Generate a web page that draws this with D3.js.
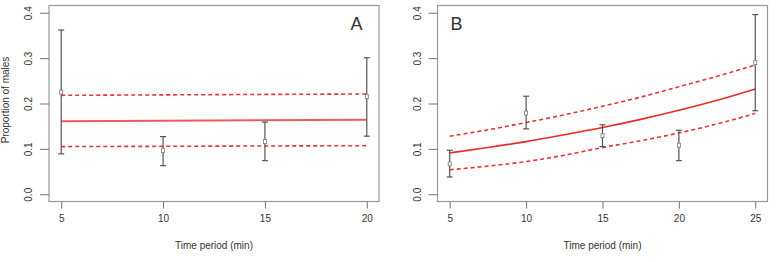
<!DOCTYPE html>
<html>
<head>
<meta charset="utf-8">
<script src="https://cdn.jsdelivr.net/npm/d3@7"></script>
<style>
  body { margin: 0; background: #fff; }
  svg text { font-family: "Liberation Sans", Arial, sans-serif; fill: #333; }
</style>
</head>
<body>
<svg id="chart" width="778" height="262"></svg>
<script>
// Panel A: observed proportions with error bars
const timesA = [5, 10, 15, 20];
const propA = [0.225, 0.096, 0.116, 0.215];
const lowA = [0.089, 0.063, 0.074, 0.128];
const highA = [0.362, 0.127, 0.159, 0.301];
// Panel A fitted line and bounds
const fitTimesA = [5, 20];
const fitA = [0.161, 0.164];
const fitLowA = [0.105, 0.107];
const fitHighA = [0.218, 0.221];

// Panel B: observed proportions with error bars
const timesB = [5, 10, 15, 20, 25];
const propB = [0.067, 0.179, 0.129, 0.108, 0.290];
const lowB = [0.038, 0.144, 0.105, 0.074, 0.184];
const highB = [0.097, 0.216, 0.153, 0.141, 0.396];
// Panel B fitted curve and bounds
const fitTimesB = [5, 7.5, 10, 12.5, 15, 17.5, 20, 22.5, 25];
const fitB = [0.091, 0.103, 0.116, 0.131, 0.147, 0.165, 0.185, 0.207, 0.232];
const fitLowB = [0.054, 0.062, 0.072, 0.086, 0.103, 0.118, 0.135, 0.155, 0.178];
const fitHighB = [0.128, 0.142, 0.158, 0.175, 0.194, 0.214, 0.237, 0.260, 0.285];

const yTicks = [0, 0.1, 0.2, 0.3, 0.4];

const svg = d3.select("#chart");

// Function to draw one panel
function drawPanel(opts) {
    const g = svg.append("g");

    const x = d3.scaleLinear().domain(opts.xDomain).range([opts.left, opts.right]);
    const y = d3.scaleLinear().domain([-0.016, 0.416]).range([201.5, 5.5]);

    // Box
    g.append("rect")
        .attr("x", opts.left)
        .attr("y", 5.5)
        .attr("width", opts.right - opts.left)
        .attr("height", 196)
        .attr("fill", "none")
        .attr("stroke", "#999")
        .attr("stroke-width", 1.2);

    // Y axis
    const yAxis = g.append("g")
        .attr("transform", `translate(${opts.left},0)`)
        .call(d3.axisLeft(y).tickValues(yTicks).tickSize(9).tickPadding(4).tickFormat(d3.format(".1f")));
    yAxis.select(".domain").remove();
    yAxis.selectAll(".tick line").attr("stroke", "#777");
    yAxis.selectAll(".tick text")
        .attr("font-size", "10px")
        .attr("fill", "#333")
        .attr("transform", "rotate(-90)")
        .attr("x", 0)
        .attr("y", -17)
        .attr("dy", "0")
        .attr("text-anchor", "middle");

    // X axis
    const xAxis = g.append("g")
        .attr("transform", `translate(0,201.5)`)
        .call(d3.axisBottom(x).tickValues(opts.times).tickSize(7).tickPadding(6).tickFormat(d3.format("d")));
    xAxis.select(".domain").remove();
    xAxis.selectAll(".tick line").attr("stroke", "#777");
    xAxis.selectAll(".tick text").attr("font-size", "10px").attr("fill", "#333");

    // X label
    g.append("text")
        .attr("x", (opts.left + opts.right) / 2)
        .attr("y", 249)
        .attr("text-anchor", "middle")
        .attr("font-size", "10px")
        .text("Time period (min)");

    // Fitted lines
    const line = d3.line().x(d => x(d[0])).y(d => y(d[1])).curve(d3.curveMonotoneX);
    const zip = (a, b) => a.map((v, i) => [v, b[i]]);

    g.append("path")
        .attr("d", line(zip(opts.fitTimes, opts.fit)))
        .attr("fill", "none")
        .attr("stroke", opts.solidColor)
        .attr("stroke-width", opts.solidWidth);

    [opts.fitLow, opts.fitHigh].forEach(vals => {
        g.append("path")
            .attr("d", line(zip(opts.fitTimes, vals)))
            .attr("fill", "none")
            .attr("stroke", "#e8323a")
            .attr("stroke-width", 1.6)
            .attr("stroke-dasharray", "4,3");
    });

    // Error bars
    const bars = g.selectAll(".bar")
        .data(opts.times.map((t, i) => ({ t: t, p: opts.prop[i], lo: opts.low[i], hi: opts.high[i] })))
        .enter().append("g")
        .attr("class", "bar");

    bars.append("line")
        .attr("x1", d => x(d.t)).attr("x2", d => x(d.t))
        .attr("y1", d => y(d.lo)).attr("y2", d => y(d.hi))
        .attr("stroke", "#555").attr("stroke-width", 1.2);
    bars.append("line")
        .attr("x1", d => x(d.t) - 3).attr("x2", d => x(d.t) + 3)
        .attr("y1", d => y(d.hi)).attr("y2", d => y(d.hi))
        .attr("stroke", "#555").attr("stroke-width", 1.2);
    bars.append("line")
        .attr("x1", d => x(d.t) - 3).attr("x2", d => x(d.t) + 3)
        .attr("y1", d => y(d.lo)).attr("y2", d => y(d.lo))
        .attr("stroke", "#555").attr("stroke-width", 1.2);
    // Point markers (open squares)
    bars.append("rect")
        .attr("x", d => x(d.t) - 1.5)
        .attr("y", d => y(d.p) - 2)
        .attr("width", 3)
        .attr("height", 4)
        .attr("fill", "#fff")
        .attr("stroke", "#777")
        .attr("stroke-width", 0.8);

    // Panel letter
    g.append("text")
        .attr("x", opts.letterX)
        .attr("y", 30)
        .attr("text-anchor", "middle")
        .attr("font-size", "18px")
        .attr("fill", "#111")
        .text(opts.letter);
}

drawPanel({
    xDomain: [4.4, 20.6], left: 49, right: 379,
    times: timesA, prop: propA, low: lowA, high: highA,
    fitTimes: fitTimesA, fit: fitA, fitLow: fitLowA, fitHigh: fitHighA,
    solidColor: "#f05a5a", solidWidth: 2,
    letter: "A", letterX: 356.5
});

drawPanel({
    xDomain: [4.2, 25.8], left: 437.5, right: 767.5,
    times: timesB, prop: propB, low: lowB, high: highB,
    fitTimes: fitTimesB, fit: fitB, fitLow: fitLowB, fitHigh: fitHighB,
    solidColor: "#e82a2a", solidWidth: 1.6,
    letter: "B", letterX: 456.5
});

// Y axis label (only left panel)
svg.append("text")
    .attr("transform", "translate(9,100) rotate(-90)")
    .attr("text-anchor", "middle")
    .attr("font-size", "10px")
    .text("Proportion of males");
</script>
</body>
</html>
